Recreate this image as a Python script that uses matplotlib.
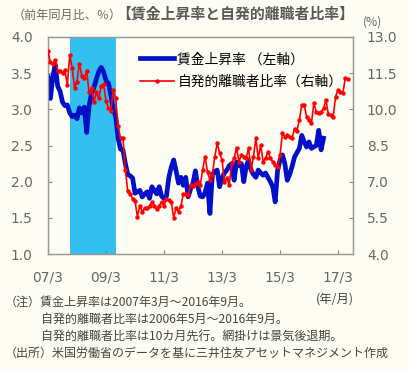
import numpy as np
import pandas as pd
from matplotlib import pyplot as plt
from matplotlib.lines import Line2D

plt.rcParams['font.family'] = ['Noto Sans CJK JP', 'DejaVu Sans']

# wage growth (%, yoy), monthly from 2007/3
wage = [3.45, 3.15, 3.45, 3.62, 3.32, 3.25, 3.10, 3.05, 3.06, 2.95,
        2.90, 2.92, 2.87, 3.02, 2.95, 3.03, 2.68, 3.05, 3.22, 3.30,
        3.42, 3.52, 3.58, 3.52, 3.40, 3.36, 3.20, 3.00, 2.90, 2.60,
        2.45, 2.44, 2.25, 2.10, 2.08, 2.05, 1.84, 1.86, 1.88, 1.79,
        1.83, 1.86, 1.77, 1.93, 1.88, 1.83, 1.93, 1.80, 1.77, 1.80,
        2.06, 2.20, 2.30, 2.15, 1.98, 2.06, 1.95, 2.06, 1.79, 1.90,
        1.98, 2.15, 1.93, 1.80, 1.79, 1.85, 1.98, 1.56, 2.10, 2.14,
        2.16, 1.93, 2.05, 2.12, 2.16, 2.22, 2.25, 2.02, 2.27, 2.22,
        2.25, 2.00, 2.21, 2.30, 2.16, 2.10, 2.06, 2.16, 2.12, 2.09,
        2.12, 2.06, 2.00, 1.93, 1.72, 2.16, 2.30, 2.37, 2.25, 2.02,
        2.10, 2.21, 2.34, 2.40, 2.46, 2.64, 2.55, 2.48, 2.55, 2.46,
        2.48, 2.50, 2.71, 2.44, 2.60]

# voluntary quit ratio (%), shifted 10 months ahead -> plotted from 2007/3
quits = [12.40, 11.95, 11.90, 12.05, 11.60, 11.60, 11.50, 11.63, 11.00, 12.25,
         11.70, 10.90, 11.15, 11.90, 11.40, 11.30, 11.60, 10.70, 10.90, 10.30,
         10.70, 10.45, 10.95, 11.05, 10.35, 10.05, 9.95, 10.80, 10.45, 9.30,
         8.80, 8.80, 7.50, 6.60, 6.50, 6.30, 6.20, 5.55, 6.00, 5.75,
         5.90, 5.90, 6.00, 6.17, 6.00, 5.85, 6.00, 6.17, 6.00, 6.30,
         6.25, 6.17, 5.50, 5.90, 5.75, 6.00, 6.50, 6.50, 6.45, 6.85,
         6.80, 6.90, 7.00, 6.86, 7.50, 8.04, 7.40, 7.07, 7.28, 8.04,
         8.59, 8.20, 7.90, 7.00, 7.14, 6.86, 7.76, 7.97, 8.40, 7.83,
         8.11, 8.04, 7.97, 8.40, 7.48, 8.04, 8.80, 7.97, 8.52, 7.83,
         7.97, 8.24, 7.97, 7.83, 7.69, 7.60, 8.10, 9.00, 8.87, 8.94,
         8.85, 8.80, 9.20, 9.10, 9.56, 10.18, 10.18, 9.70, 9.55, 9.42,
         10.25, 9.90, 9.83, 9.90, 10.04, 10.38, 9.80, 9.77, 9.70, 10.53,
         10.80, 10.73, 10.66, 11.29, 11.25]

start = pd.Period('2007-03', freq='M')
recession = ('2007-12', '2009-06')
tick_labels = ['07/3', '09/3', '11/3', '13/3', '15/3', '17/3']
left_ticks = np.arange(1.0, 4.01, 0.5)
right_ticks = np.arange(4.0, 13.01, 1.5)


def month_idx(s):
    return (pd.Period(s, freq='M') - start).n


bg = '#fdfdf4'
gray = '#666666'
tickfont = dict(family='DejaVu Sans', size=9.9, color=gray)

fig = plt.figure(figsize=(4.09, 3.70), dpi=100, facecolor=bg)
ax = fig.add_axes([48/409, 1-254/370, 305/409, 217/370])
ax.set_facecolor(bg)
ax2 = ax.twinx()

ax.axvspan(month_idx(recession[0]), month_idx(recession[1]) + 1,
           color='#33bff0', lw=0, zorder=0)
ax.plot(np.arange(len(wage)), wage, color='#0010c8', lw=3.4,
        solid_joinstyle='round', zorder=3)
ax2.plot(np.arange(len(quits)), quits, color='#ff0000', lw=1.2,
         marker='o', ms=2.2, zorder=3)

ax.set_xlim(0, 126.2)
ax.set_ylim(1.0, 4.0)
ax2.set_ylim(4.0, 13.0)
ax.set_xticks(np.arange(0, 121, 24))
ax.set_xticklabels(tick_labels, fontdict=tickfont)
ax.set_yticks(left_ticks)
ax.set_yticklabels([f'{v:.1f}' for v in left_ticks], fontdict=tickfont)
ax2.set_yticks(right_ticks)
ax2.set_yticklabels([f'{v:.1f}' for v in right_ticks], fontdict=tickfont)

ax.tick_params(axis='both', direction='in', length=3, color='#888888')
ax.tick_params(axis='x', pad=12)
ax.tick_params(axis='y', pad=11)
ax2.tick_params(axis='y', direction='in', length=3, color='#888888', pad=10)
for a in (ax, ax2):
    for s in a.spines.values():
        s.set_color('#999999')
        s.set_linewidth(0.9)

handles = [Line2D([], [], color='#0010c8', lw=3.4),
           Line2D([], [], color='#ff0000', lw=1.2, marker='o', ms=2.2)]
ax2.legend(handles, ['賃金上昇率 （左軸）', '自発的離職者比率（右軸）'],
           loc='upper left', bbox_to_anchor=(0.30, 0.93), frameon=False,
           fontsize=9.9, handlelength=2.5, handletextpad=0.25,
           labelspacing=0.6, borderpad=0, borderaxespad=0, numpoints=1)

fig.text(13/409, 1-15/370, '（前年同月比、％）', fontsize=8.7, color=gray, va='center')
fig.text(116/409, 1-14/370, '【賃金上昇率と自発的離職者比率】', fontsize=10.7,
         fontweight='bold', color='#595959', va='center')
fig.text(372/409, 1-22/370, '(%)', fontsize=8.7, color=gray, va='center', ha='center')
fig.text(335/409, 1-299/370, '(年/月)', fontsize=8.9, color='#444444', va='center', ha='center')

notes = ['（注）賃金上昇率は2007年3月～2016年9月。',
         '　　　自発的離職者比率は2006年5月～2016年9月。',
         '　　　自発的離職者比率は10カ月先行。網掛けは景気後退期。',
         '（出所）米国労働省のデータを基に三井住友アセットマネジメント作成']
for i, line in enumerate(notes):
    fig.text(5/409, 1-(302 + i*17)/370, line, fontsize=8.65, color='#444444', va='center')

fig.savefig('out.png', dpi=100, facecolor=bg)
